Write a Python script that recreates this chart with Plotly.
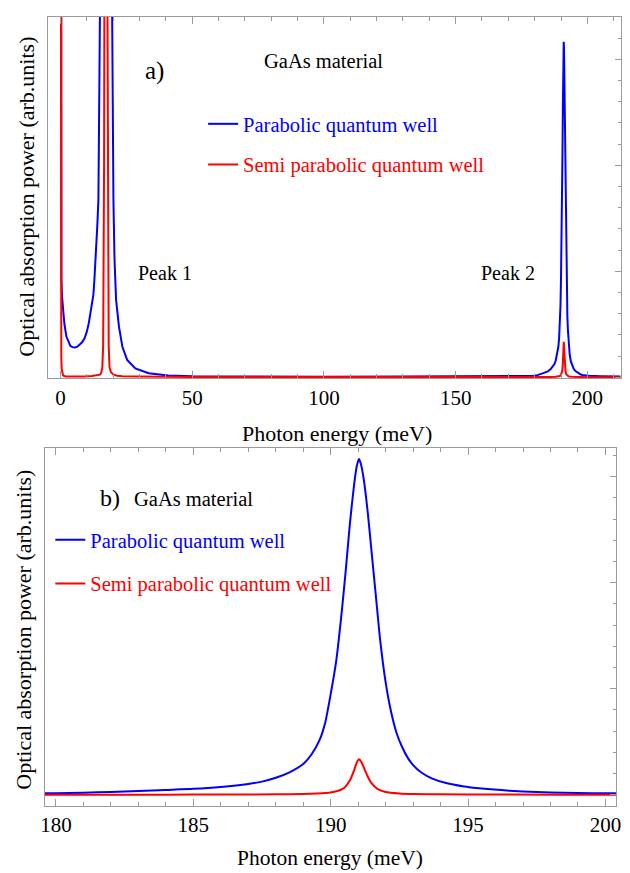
import plotly.graph_objects as go

W, H = 630, 873

# ---- data (photon energy in meV, absorption in arb. units) ----
energy_parabolic = [0.05, 0.15, 0.25, 0.37, 0.6, 1.0, 1.5, 2.25, 3.0, 3.74, 4.5, 5.4, 6.3, 7.26,
                    8.2, 9.13, 10.0, 10.74, 11.4, 11.98, 12.5, 12.87, 13.6, 14.0, 14.4, 14.75, 14.97,
                    15.5, 16.3, 17.2, 18.1, 18.9, 19.46, 19.7, 20.1, 20.5, 21.1, 22.2, 23.5, 25.3,
                    28.4, 33.5, 40.9, 50.0, 70.0, 100.0, 130.0, 150.0, 165.0, 172.0, 176.0,
                    180.0, 181.0, 182.0, 183.0, 184.0, 185.0, 186.0, 187.0, 187.5, 188.0, 188.5,
                    189.0, 189.3, 189.6, 189.8, 190.0, 190.2, 190.4, 190.55, 190.7, 190.85, 190.95,
                    191.03, 191.1, 191.2, 191.35, 191.5, 191.65, 191.8, 192.0, 192.2, 192.4, 192.6,
                    192.8, 193.0, 193.3, 193.7, 194.2, 194.8, 195.5, 196.5, 197.5, 198.5, 199.5,
                    200.5, 205.0, 212.6]
power_parabolic = [60.0, 15.0, 8.0, 4.6, 3.8, 3.0, 2.5, 1.92, 1.65, 1.48, 1.42, 1.40, 1.43, 1.52,
                   1.65, 1.84, 2.15, 2.55, 3.0, 3.49, 3.9, 4.59, 6.1, 7.2, 8.37, 12.0, 17.0,
                   30.0, 50.0, 65.0, 50.0, 30.0, 17.0, 13.1, 8.37, 5.6, 3.65, 2.39, 1.44, 0.82,
                   0.42, 0.19, 0.08, 0.05, 0.03, 0.025, 0.03, 0.035, 0.045, 0.055, 0.06,
                   0.07, 0.10, 0.13, 0.18, 0.23, 0.28, 0.37, 0.51, 0.62, 0.80, 1.06,
                   1.45, 1.90, 2.60, 3.40, 4.75, 6.30, 8.60, 10.6, 12.8, 14.6, 15.5,
                   15.83, 15.6, 14.9, 13.3, 11.3, 9.3, 7.3, 5.3, 3.9, 2.9, 2.25,
                   1.75, 1.40, 1.05, 0.76, 0.55, 0.40, 0.29, 0.19, 0.13, 0.09, 0.075,
                   0.065, 0.05, 0.04]

energy_semi = [0.02, 0.1, 0.2, 0.3, 0.45, 0.7, 1.0, 2.0, 5.0, 9.0, 12.0, 14.0, 15.0, 15.5, 15.9,
               16.2, 16.4, 16.55, 16.65, 16.9, 17.2, 17.5, 17.85, 17.95, 18.1, 18.3, 18.6, 19.1,
               20.0, 21.5, 23.5, 30.0, 50.0, 100.0, 150.0,
               180.0, 184.0, 186.0, 188.0, 189.0, 189.5, 190.0, 190.3, 190.5, 190.7, 190.85,
               190.95, 191.03, 191.1, 191.2, 191.35, 191.5, 191.7, 192.0, 192.5, 193.0, 194.0,
               196.0, 200.5, 212.6]
power_semi = [80.0, 20.0, 4.0, 1.0, 0.4, 0.15, 0.08, 0.04, 0.03, 0.04, 0.06, 0.10, 0.12, 0.22, 0.5,
              1.5, 4.6, 10.0, 17.0, 60.0, 90.0, 60.0, 17.0, 10.0, 4.6, 1.5, 0.5, 0.25,
              0.13, 0.07, 0.05, 0.03, 0.01, 0.0, 0.0,
              0.0, 0.005, 0.01, 0.02, 0.035, 0.06, 0.11, 0.20, 0.33, 0.68, 1.15,
              1.52, 1.67, 1.58, 1.30, 0.85, 0.52, 0.28, 0.13, 0.06, 0.035, 0.02,
              0.01, 0.0, 0.0]

series_names = ["Parabolic quantum well", "Semi parabolic quantum well"]
series_colors = ["#0000ff", "#ff0000"]
x_title = "Photon energy (meV)"
y_title = "Optical absorption power (arb.units)"
material = "GaAs material"

FONT = "Liberation Serif"
FRAME = "#9a9a9a"


def px(x):
    return x / W


def py(y):
    return 1 - y / H


fig = go.Figure()
series = [(energy_parabolic, power_parabolic), (energy_semi, power_semi)]
for xa, ya, leg, shape in [("x", "y", "legend", "linear"), ("x2", "y2", "legend2", "spline")]:
    for i, ((xs, ys), name, col) in enumerate(zip(series, series_names, series_colors)):
        fig.add_trace(go.Scatter(
            x=xs, y=ys, mode="lines",
            line=dict(color=col, width=2, shape=shape, smoothing=0.6),
            name=f"<span style='color:{col}'>{name}</span>",
            xaxis=xa, yaxis=ya, legend=leg, legendgroup=f"{leg}_{i}",
            showlegend=True))

common_x = dict(ticks="inside", tickcolor=FRAME, ticklen=7, tickwidth=1,
                showline=True, linecolor=FRAME, linewidth=1, mirror="allticks",
                showgrid=False, zeroline=False,
                tickfont=dict(family=FONT, size=21, color="black"))
common_y = dict(side="right", ticks="inside", tickcolor=FRAME, ticklen=6, tickwidth=1,
                showline=True, linecolor=FRAME, linewidth=1, mirror=True,
                showgrid=False, zeroline=False, showticklabels=False,
                tickmode="linear", tick0=0, dtick=5,
                minor=dict(ticks="inside", ticklen=3, tickcolor=FRAME, dtick=1, tick0=0,
                           showgrid=False))

fig.update_layout(
    width=W, height=H, margin=dict(l=0, r=0, t=0, b=0),
    paper_bgcolor="white", plot_bgcolor="white",
    xaxis=dict(domain=[px(45), px(625.5)], range=[-4.6, 212.6], anchor="y",
               tickmode="linear", tick0=0, dtick=50,
               minor=dict(ticks="inside", ticklen=4, tickcolor=FRAME, dtick=10, tick0=0,
                          showgrid=False),
               **common_x),
    yaxis=dict(domain=[py(378.3), py(17)], range=[-0.05, 17.0], anchor="x", **common_y),
    xaxis2=dict(domain=[px(41.3), px(621)], range=[179.59, 200.39], anchor="y2",
                tickmode="linear", tick0=180, dtick=5,
                minor=dict(ticks="inside", ticklen=4, tickcolor=FRAME, dtick=1, tick0=180,
                           showgrid=False),
                **common_x),
    yaxis2=dict(domain=[py(806), py(448)], range=[-0.53, 16.35], anchor="x2", **common_y),
    legend=dict(x=px(202), y=py(104), xanchor="left", yanchor="top",
                font=dict(family=FONT, size=20.5), bgcolor="rgba(0,0,0,0)",
                traceorder="grouped", tracegroupgap=11),
    legend2=dict(x=px(47), y=py(520), xanchor="left", yanchor="top",
                 font=dict(family=FONT, size=20.5), bgcolor="rgba(0,0,0,0)",
                 traceorder="grouped", tracegroupgap=14),
    showlegend=True,
)

ann = []


def text(s, x, y, size, angle=0):
    ann.append(dict(text=s, x=px(x), y=py(y), xref="paper", yref="paper",
                    xanchor="center", yanchor="middle", showarrow=False,
                    textangle=angle, font=dict(family=FONT, size=size, color="black")))


text("a)", 153, 71, 25)
text(material, 324, 61, 20.5)
text("Peak 1", 163.5, 273, 20)
text("Peak 2", 511, 273, 20)
text(x_title, 338, 433, 22)
text(y_title, 23, 197, 22, -90)
text("b)", 108, 498, 24)
text(material, 192.5, 499, 20.5)
text(x_title, 331, 858, 21.5)
text(y_title, 19, 630, 22, -90)
fig.update_layout(annotations=ann)

fig.write_html("out.html", config={"displayModeBar": False},
               post_script="document.body.style.margin='0px';")
